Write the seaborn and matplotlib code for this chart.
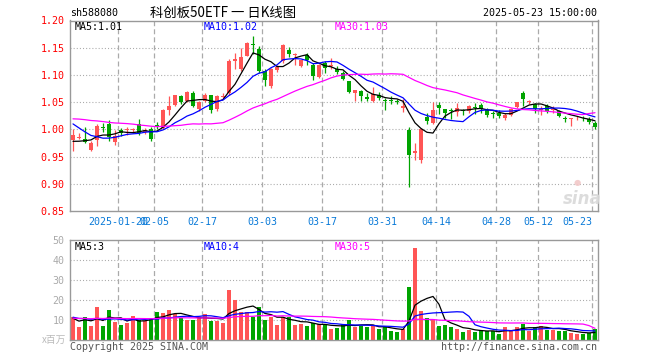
import numpy as np
import pandas as pd
import matplotlib
matplotlib.use("Agg")
import matplotlib.pyplot as plt
import seaborn as sns

# ---------------- data ----------------
holidays = ['2025-01-28', '2025-01-29', '2025-01-30', '2025-01-31', '2025-02-03',
            '2025-02-04', '2025-04-04', '2025-05-01', '2025-05-02', '2025-05-05']
dates = [d.strftime('%Y-%m-%d') for d in pd.bdate_range('2025-01-08', '2025-05-23')
         if d.strftime('%Y-%m-%d') not in holidays]

opens = [0.981, 0.985, 0.983, 0.962, 0.981, 1.004, 1.009, 0.976, 0.998, 0.999,
         0.999, 1.010, 0.995, 1.001, 1.008, 1.002, 1.035, 1.045, 1.062, 1.053,
         1.066, 1.038, 1.053, 1.063, 1.038, 1.059, 1.067, 1.125, 1.111, 1.135,
         1.157, 1.147, 1.107, 1.080, 1.109, 1.125, 1.145, 1.136, 1.116, 1.136,
         1.118, 1.097, 1.121, 1.117, 1.111, 1.104, 1.089, 1.067, 1.071, 1.060,
         1.053, 1.063, 1.054, 1.054, 1.052, 1.039, 0.999, 0.956, 0.944, 1.023,
         1.012, 1.045, 1.037, 1.035, 1.031, 1.035, 1.033, 1.040, 1.045, 1.036,
         1.030, 1.030, 1.020, 1.027, 1.041, 1.067, 1.051, 1.046, 1.036, 1.042,
         1.035, 1.034, 1.020, 1.019, 1.020, 1.021, 1.019, 1.012]
highs = [1.001, 0.993, 1.004, 0.978, 1.009, 1.011, 1.018, 0.999, 1.003, 1.005,
         1.003, 1.019, 1.002, 1.004, 1.014, 1.038, 1.061, 1.063, 1.064, 1.070,
         1.070, 1.052, 1.067, 1.064, 1.064, 1.066, 1.130, 1.141, 1.150, 1.160,
         1.172, 1.154, 1.110, 1.113, 1.119, 1.157, 1.152, 1.141, 1.128, 1.140,
         1.122, 1.120, 1.125, 1.132, 1.117, 1.107, 1.089, 1.073, 1.073, 1.067,
         1.078, 1.068, 1.058, 1.062, 1.055, 1.055, 1.005, 0.975, 1.002, 1.030,
         1.051, 1.051, 1.037, 1.039, 1.049, 1.037, 1.045, 1.048, 1.049, 1.039,
         1.033, 1.035, 1.030, 1.039, 1.051, 1.071, 1.054, 1.048, 1.042, 1.046,
         1.043, 1.036, 1.025, 1.021, 1.025, 1.025, 1.023, 1.015]
lows = [0.960, 0.982, 0.975, 0.960, 0.969, 0.996, 0.979, 0.971, 0.988, 0.990,
        0.994, 0.990, 0.991, 0.978, 1.001, 1.000, 1.027, 1.042, 1.047, 1.051,
        1.041, 1.034, 1.051, 1.030, 1.034, 1.056, 1.064, 1.110, 1.107, 1.134,
        1.138, 1.103, 1.080, 1.076, 1.106, 1.122, 1.133, 1.118, 1.114, 1.118,
        1.090, 1.095, 1.104, 1.110, 1.101, 1.091, 1.067, 1.053, 1.052, 1.052,
        1.050, 1.054, 1.035, 1.047, 1.046, 1.031, 0.895, 0.944, 0.938, 1.009,
        1.009, 1.029, 1.021, 1.019, 1.024, 1.027, 1.030, 1.028, 1.030, 1.023,
        1.021, 1.021, 1.017, 1.025, 1.039, 1.043, 1.046, 1.030, 1.027, 1.030,
        1.030, 1.022, 1.013, 1.007, 1.017, 1.015, 1.010, 1.001]
closes = [0.990, 0.986, 0.977, 0.975, 1.007, 1.003, 0.986, 0.988, 0.994, 1.001,
          1.001, 0.994, 0.999, 0.983, 1.007, 1.036, 1.043, 1.063, 1.050, 1.068,
          1.042, 1.050, 1.064, 1.036, 1.062, 1.061, 1.125, 1.130, 1.133, 1.159,
          1.155, 1.107, 1.090, 1.110, 1.115, 1.155, 1.139, 1.137, 1.127, 1.128,
          1.098, 1.118, 1.113, 1.118, 1.105, 1.093, 1.068, 1.073, 1.061, 1.055,
          1.065, 1.058, 1.053, 1.053, 1.051, 1.043, 0.953, 0.960, 1.001, 1.016,
          1.036, 1.039, 1.030, 1.034, 1.039, 1.034, 1.043, 1.039, 1.037, 1.027,
          1.029, 1.024, 1.027, 1.037, 1.051, 1.056, 1.052, 1.037, 1.037, 1.034,
          1.036, 1.024, 1.019, 1.020, 1.021, 1.020, 1.013, 1.005]
volumes = [11.5, 6.8, 11.5, 7.2, 16.7, 7.2, 15.2, 9.2, 7.7, 8.7,
           12.2, 10.2, 9.8, 10.5, 14.2, 13.7, 15.2, 13.0, 11.0, 10.2,
           10.2, 11.5, 13.2, 9.8, 9.8, 8.7, 25.2, 20.2, 14.3, 14.2,
           11.5, 16.7, 10.2, 11.5, 7.7, 11.5, 11.5, 7.7, 8.0, 7.2,
           8.5, 8.2, 7.8, 5.7, 6.2, 7.8, 10.2, 6.8, 7.3, 6.7,
           7.3, 5.7, 6.7, 4.7, 4.2, 5.7, 26.7, 46.2, 14.7, 11.2,
           10.5, 7.2, 7.7, 6.7, 5.7, 4.2, 5.3, 4.2, 5.0, 4.5,
           4.5, 3.2, 6.7, 5.0, 6.7, 8.2, 4.7, 6.7, 7.2, 5.3,
           5.3, 4.7, 4.7, 3.7, 3.2, 3.2, 3.7, 5.7]
# estimated sessions before the visible window (only feed the moving averages)
prior_closes = [1.00, 1.01, 1.02, 1.03, 1.04, 1.03, 1.02, 1.01, 1.02, 1.03,
                1.04, 1.03, 1.02, 1.03, 1.02, 1.03, 1.04, 1.03, 1.02, 1.01,
                1.06, 1.05, 1.04, 1.03, 1.03, 0.985, 0.972, 0.968, 0.975]
prior_volumes = [10, 11, 12, 10, 11, 9, 11, 12, 10, 11,
                 10, 11, 12, 11, 10, 11, 10, 11, 11, 11,
                 13, 12, 11, 12, 12, 14, 8, 10, 11.5]

tick_dates = ['2025-01-20', '2025-02-05', '2025-02-17', '2025-03-03', '2025-03-17',
              '2025-03-31', '2025-04-14', '2025-04-28', '2025-05-12', '2025-05-23']
tick_labels = ['2025-01-20', '02-05', '02-17', '03-03', '03-17',
               '03-31', '04-14', '04-28', '05-12', '05-23']
price_ticks = [0.85, 0.90, 0.95, 1.00, 1.05, 1.10, 1.15, 1.20]
vol_ticks = [10, 20, 30, 40, 50]

# ---------------- style ----------------
sns.set_style("white")
plt.rcParams['font.family'] = ['DejaVu Sans Mono', 'Noto Sans CJK SC']
plt.rcParams['lines.scale_dashes'] = False

RED = '#ff5555'
GREEN = '#00a400'
BLUE_TXT = '#0a7ad8'
GRID = '#aaaaaa'
SPINE = '#999999'
MONO = 7.2

n = len(closes)
x = np.arange(n)
o = np.array(opens); c = np.array(closes); h = np.array(highs); l = np.array(lows)
up = c >= o
cols = np.where(up, RED, GREEN)

W, H = 660, 360
fig = plt.figure(figsize=(6.6, 3.6), dpi=100)
ax = fig.add_axes([70 / W, (H - 211) / H, 528 / W, 190.5 / H])
axv = fig.add_axes([70 / W, (H - 340.3) / H, 528 / W, 100.3 / H])

tick_pos = [dates.index(d) - 0.5 for d in tick_dates]

# ---------------- price panel ----------------
for v in price_ticks[1:-1]:
    ax.axhline(v, color=GRID, lw=0.8, ls=(0, (0.75, 1.5)), zorder=0)
for p in tick_pos:
    ax.axvline(p, color=GRID, lw=0.9, ls=(0, (3.6, 2.2)), zorder=0)

ax.vlines(x, l, h, colors=cols, lw=0.9, zorder=2)
body_b = np.minimum(o, c)
body_h = np.maximum(np.abs(c - o), 0.0017)
ax.bar(x, body_h, bottom=body_b, width=0.82, color=cols, linewidth=0, zorder=3)

cs = pd.Series(prior_closes + closes)
k = len(prior_closes)
ma_specs = [(5, 'black'), (10, '#0000ff'), (30, '#ff00ff')]
for win, colr in ma_specs:
    ma = cs.rolling(win).mean().iloc[k:].values
    sns.lineplot(x=x, y=ma, ax=ax, color=colr, lw=0.9, zorder=4)

ax.set_xlim(-0.5, n - 0.5)
ax.set_ylim(0.85, 1.20)
ax.set_yticks(price_ticks)
ax.set_yticklabels([f'{v:.2f}' for v in price_ticks], color='#ff0000', fontsize=MONO)
ax.set_xticks(tick_pos)
ax.set_xticklabels(tick_labels, color=BLUE_TXT, fontsize=MONO)
ax.get_xticklabels()[-1].set_horizontalalignment('right')
ax.tick_params(axis='both', length=0)
ax.tick_params(axis='y', pad=4)
ax.tick_params(axis='x', pad=4)
ax.set_xlabel(''); ax.set_ylabel('')

# ---------------- volume panel ----------------
for v in vol_ticks[:-1]:
    axv.axhline(v, color=GRID, lw=0.8, ls=(0, (0.75, 1.5)), zorder=0)
for p in tick_pos:
    axv.axvline(p, color=GRID, lw=0.9, ls=(0, (3.6, 2.2)), zorder=0)

vdf = pd.DataFrame({'x': x, 'vol': volumes, 'dir': np.where(up, 'up', 'down')})
sns.barplot(data=vdf, x='x', y='vol', hue='dir', palette={'up': RED, 'down': GREEN},
            native_scale=True, width=0.82, dodge=False, legend=False, errorbar=None,
            saturation=1, linewidth=0, ax=axv, zorder=2)

vs = pd.Series(prior_volumes + volumes)
for win, colr in ma_specs:
    ma = vs.rolling(win).mean().iloc[k:].values
    sns.lineplot(x=x, y=ma, ax=axv, color=colr, lw=0.9, zorder=4)

axv.set_xlim(-0.5, n - 0.5)
axv.set_ylim(0, 50)
axv.set_yticks(vol_ticks)
axv.set_yticklabels([str(v) for v in vol_ticks], color='#aaaaaa', fontsize=MONO)
axv.set_xticks(tick_pos)
axv.set_xticklabels([])
axv.tick_params(axis='both', length=0)
axv.tick_params(axis='y', pad=4)
axv.set_xlabel(''); axv.set_ylabel('')

for a in (ax, axv):
    for s in a.spines.values():
        s.set_color(SPINE)
        s.set_linewidth(1.0)
        s.set_visible(True)

# ---------------- texts ----------------
def ft(px, py, s, **kw):
    fig.text(px / W, 1 - py / H, s, **kw)

ft(70, 13, 'sh588080', ha='left', va='center', fontsize=MONO, color='black')
ft(150, 13, '科创板50ETF 一 日K线图', ha='left', va='center', fontsize=9.6,
   family=['Noto Sans CJK SC', 'DejaVu Sans'], color='black')
ft(597, 13, '2025-05-23 15:00:00', ha='right', va='center', fontsize=MONO, color='black')

ft(75, 27, 'MA5:1.01', ha='left', va='center', fontsize=MONO, color='black')
ft(204, 27, 'MA10:1.02', ha='left', va='center', fontsize=MONO, color='#0000ff')
ft(335, 27, 'MA30:1.03', ha='left', va='center', fontsize=MONO, color='#ff00ff')

ft(75, 246.5, 'MA5:3', ha='left', va='center', fontsize=MONO, color='black')
ft(204, 246.5, 'MA10:4', ha='left', va='center', fontsize=MONO, color='#0000ff')
ft(335, 246.5, 'MA30:5', ha='left', va='center', fontsize=MONO, color='#ff00ff')

ft(66, 340, 'x百万', ha='right', va='center', fontsize=7.0,
   family=['Noto Sans CJK SC', 'DejaVu Sans'], color='#bbbbbb')
ft(70, 347, 'Copyright 2025 SINA.COM', ha='left', va='center', fontsize=MONO, color='#555555')
ft(597, 347, 'http://finance.sina.com.cn', ha='right', va='center', fontsize=MONO, color='#555555')

ft(582, 199, 'sina', ha='center', va='center', fontsize=12, style='italic', weight='bold',
   family='DejaVu Sans', color='#d9d9d9', alpha=0.9)
ft(577, 183, '●', ha='center', va='center', fontsize=6, family='DejaVu Sans',
   color='#f2c8c8', alpha=0.9)

fig.savefig('out.png', dpi=100)
